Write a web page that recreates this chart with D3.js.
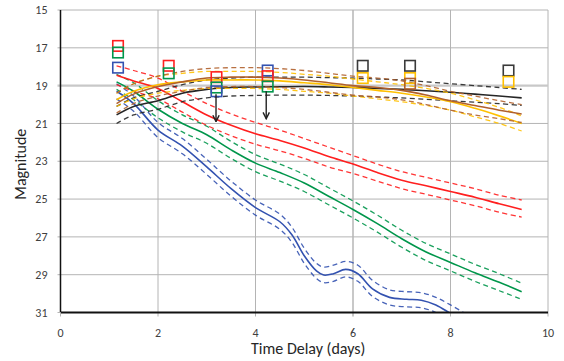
<!DOCTYPE html>
<html>
<head>
<meta charset="utf-8">
<script src="https://cdn.jsdelivr.net/npm/d3@7"></script>
<style>
  body { margin: 0; background: #fff; }
  text { font-family: Carlito, Calibri, "Open Sans", sans-serif; }
</style>
</head>
<body>
<div id="chart"></div>
<script>
// time knots (days) shared by the model curves
var tKnots = [1.15, 1.5, 2, 2.5, 3, 3.5, 4, 4.5, 5, 5.5, 6, 6.5, 7, 7.5, 8, 8.5, 9, 9.46];

var redMid = [18.45, 18.75, 19.15, 19.85, 20.55, 21.1, 21.55, 21.9, 22.3, 22.75, 23.15, 23.6, 24.0, 24.3, 24.6, 24.9, 25.25, 25.55];
var redHi  = [17.95, 18.2, 18.6, 19.3, 19.95, 20.5, 20.95, 21.35, 21.8, 22.25, 22.7, 23.15, 23.55, 23.85, 24.15, 24.45, 24.8, 25.05];
var redLo  = [18.95, 19.3, 19.7, 20.4, 21.1, 21.65, 22.1, 22.45, 22.85, 23.3, 23.65, 24.05, 24.45, 24.75, 25.05, 25.35, 25.7, 25.95];

var greenMid = [18.8, 19.3, 20.25, 21.0, 21.6, 22.4, 23.1, 23.6, 24.15, 24.85, 25.55, 26.3, 27.1, 27.8, 28.35, 28.9, 29.4, 29.9];
var greenHi  = [18.4, 18.85, 19.8, 20.55, 21.15, 21.95, 22.65, 23.15, 23.7, 24.4, 25.1, 25.85, 26.65, 27.35, 27.9, 28.45, 28.95, 29.45];
var greenLo  = [19.2, 19.75, 20.7, 21.45, 22.05, 22.85, 23.55, 24.05, 24.6, 25.3, 26.0, 26.75, 27.55, 28.25, 28.8, 29.35, 29.85, 30.3];

var blueT   = [1.15, 1.5, 2, 2.5, 3, 3.5, 4, 4.5, 4.75, 5, 5.25, 5.4, 5.6, 5.85, 6.1, 6.4, 6.75, 7.1, 7.4, 7.7, 8, 8.3];
var blueMid = [19.3, 19.95, 21.35, 22.2, 23.3, 24.45, 25.45, 26.2, 26.9, 28.0, 28.8, 29.02, 28.95, 28.72, 28.95, 29.75, 30.2, 30.3, 30.35, 30.6, 31.05, 31.5];
var blueHi  = [18.9, 19.55, 20.95, 21.8, 22.9, 24.05, 25.05, 25.8, 26.5, 27.6, 28.4, 28.6, 28.5, 28.3, 28.5, 29.3, 29.8, 29.9, 29.95, 30.2, 30.6, 31.05];
var blueLo  = [19.7, 20.35, 21.75, 22.6, 23.7, 24.85, 25.85, 26.6, 27.3, 28.4, 29.2, 29.42, 29.35, 29.12, 29.35, 30.15, 30.6, 30.7, 30.75, 31.0, 31.45, 31.9];

var orangeMid = [19.75, 19.3, 18.95, 18.8, 18.7, 18.7, 18.7, 18.75, 18.85, 18.95, 19.1, 19.25, 19.4, 19.6, 19.85, 20.2, 20.6, 21.0];
var orangeHi  = [19.4, 18.9, 18.5, 18.35, 18.25, 18.25, 18.25, 18.3, 18.4, 18.5, 18.65, 18.8, 18.95, 19.15, 19.4, 19.75, 20.15, 20.6];
var orangeLo  = [20.1, 19.7, 19.4, 19.25, 19.15, 19.15, 19.15, 19.2, 19.3, 19.4, 19.55, 19.7, 19.85, 20.05, 20.3, 20.65, 21.0, 21.4];

var brownMid = [19.95, 19.45, 19.05, 18.8, 18.6, 18.55, 18.55, 18.6, 18.7, 18.85, 19.0, 19.1, 19.25, 19.5, 19.8, 20.05, 20.3, 20.5];
var brownHi  = [19.4, 18.9, 18.5, 18.25, 18.1, 18.05, 18.05, 18.1, 18.2, 18.35, 18.5, 18.6, 18.75, 19.0, 19.3, 19.55, 19.8, 20.0];
var brownLo  = [20.45, 19.95, 19.55, 19.3, 19.1, 19.05, 19.05, 19.1, 19.2, 19.35, 19.5, 19.6, 19.75, 20.0, 20.3, 20.55, 20.75, 20.95];

var blackMid = [20.55, 20.1, 19.8, 19.4, 19.2, 19.1, 19.07, 19.06, 19.05, 19.07, 19.1, 19.15, 19.2, 19.27, 19.35, 19.45, 19.55, 19.65];
var blackHi  = [20.1, 19.65, 19.3, 18.95, 18.7, 18.6, 18.55, 18.55, 18.55, 18.58, 18.6, 18.65, 18.7, 18.8, 18.9, 19.0, 19.1, 19.2];
var blackLo  = [21.0, 20.55, 20.25, 19.85, 19.65, 19.55, 19.52, 19.5, 19.5, 19.52, 19.55, 19.6, 19.65, 19.72, 19.8, 19.88, 19.95, 20.05];

// observed points (squares)
var obsT     = [1.18, 1.18, 1.18, 2.22, 2.22, 3.2, 3.2, 3.2, 4.25, 4.25, 4.25, 6.2, 6.2, 7.17, 7.17, 7.17, 9.19, 9.19];
var obsMag   = [16.9, 17.25, 18.05, 17.95, 18.35, 18.55, 19.1, 19.3, 18.2, 18.5, 19.05, 17.95, 18.6, 17.95, 18.6, 18.9, 18.2, 18.8];
var obsColor = ["red", "green", "blue", "red", "green", "red", "green", "blue", "blue", "red", "green", "black", "orange", "black", "orange", "brown", "black", "orange"];

// upper limits (arrows)
var limT    = [3.19, 4.22];
var limFrom = [19.45, 19.3];
var limTo   = [20.9, 20.75];

var xTicks = [0, 2, 4, 6, 8, 10];
var yTicks = [15, 17, 19, 21, 23, 25, 27, 29, 31];

var colors = { red: "#ff1f1f", green: "#00964b", blue: "#3352b0", orange: "#ffc000", brown: "#b0602c", black: "#262626" };

var margin = {top: 10, right: 16, bottom: 48.5, left: 60.5},
    width = 564 - margin.left - margin.right,
    height = 361 - margin.top - margin.bottom;

var svg = d3.select("#chart")
  .append("svg")
    .attr("width", 564)
    .attr("height", 361)
  .append("g")
    .attr("transform", "translate(" + margin.left + "," + margin.top + ")");

var x = d3.scaleLinear().domain([0, 10]).range([0, width]);
var y = d3.scaleLinear().domain([15, 31]).range([0, height]);

// gridlines
svg.append("g")
  .selectAll("line")
  .data(xTicks.slice(1))
  .enter().append("line")
  .attr("x1", d => x(d)).attr("x2", d => x(d))
  .attr("y1", 0).attr("y2", height + 4)
  .attr("stroke", d => d == 6 ? "#c8c8c8" : "#b4b4b4")
  .attr("stroke-width", d => d == 6 ? 2 : 1);

svg.append("g")
  .selectAll("line")
  .data(yTicks.slice(0, -1))
  .enter().append("line")
  .attr("x1", -3).attr("x2", width)
  .attr("y1", d => y(d)).attr("y2", d => y(d))
  .attr("stroke", d => d == 19 ? "#c8c8c8" : "#b4b4b4")
  .attr("stroke-width", d => d == 19 ? 2.2 : 1);

svg.append("clipPath").attr("id", "clip")
  .append("rect").attr("width", width).attr("height", height);

var plot = svg.append("g").attr("clip-path", "url(#clip)");

var line = d3.line()
  .x(d => x(d[0]))
  .y(d => y(d[1]))
  .curve(d3.curveCatmullRom.alpha(0.5));

function band(ts, lo, mid, hi, col) {
  [lo, hi].forEach(function(arr) {
    plot.append("path")
      .datum(ts.map((t, i) => [t, arr[i]]))
      .attr("d", line)
      .attr("fill", "none")
      .attr("stroke", col)
      .attr("stroke-width", 1.3)
      .attr("stroke-dasharray", "5,3.5")
      .attr("opacity", 0.9);
  });
  plot.append("path")
    .datum(ts.map((t, i) => [t, mid[i]]))
    .attr("d", line)
    .attr("fill", "none")
    .attr("stroke", col)
    .attr("stroke-width", 1.6);
}

band(blueT, blueLo, blueMid, blueHi, colors.blue);
band(tKnots, greenLo, greenMid, greenHi, colors.green);
band(tKnots, redLo, redMid, redHi, colors.red);
band(tKnots, blackLo, blackMid, blackHi, colors.black);
band(tKnots, orangeLo, orangeMid, orangeHi, colors.orange);
band(tKnots, brownLo, brownMid, brownHi, colors.brown);

// observation squares
var sq = 10.5;
svg.append("g")
  .selectAll("rect")
  .data(obsT)
  .enter().append("rect")
  .attr("x", (d, i) => x(d) - sq / 2)
  .attr("y", (d, i) => y(obsMag[i]) - sq / 2)
  .attr("width", sq).attr("height", sq)
  .attr("fill", "none")
  .attr("stroke", (d, i) => obsColor[i] == "black" ? "#3a3a3a" : colors[obsColor[i]])
  .attr("stroke-width", 1.6);

// upper limit arrows (marker drawn pointing along +x, auto-rotated)
svg.append("defs").append("marker")
  .attr("id", "arrow")
  .attr("viewBox", "0 0 10 10")
  .attr("refX", 9).attr("refY", 5)
  .attr("markerWidth", 9).attr("markerHeight", 9)
  .attr("orient", "auto")
  .attr("markerUnits", "userSpaceOnUse")
  .append("path")
  .attr("d", "M2,1.5 L9,5 L2,8.5")
  .attr("fill", "none")
  .attr("stroke", "#222")
  .attr("stroke-width", 1.6);

svg.append("g")
  .selectAll("line")
  .data(limT)
  .enter().append("line")
  .attr("x1", d => x(d)).attr("x2", d => x(d))
  .attr("y1", (d, i) => y(limFrom[i]))
  .attr("y2", (d, i) => y(limTo[i]))
  .attr("stroke", "#222")
  .attr("stroke-width", 1.4)
  .attr("marker-end", "url(#arrow)");

// axes
svg.append("line")
  .attr("x1", 0).attr("x2", 0).attr("y1", 0).attr("y2", height)
  .attr("stroke", "#111").attr("stroke-width", 1.5);
svg.append("line")
  .attr("x1", 0).attr("x2", width).attr("y1", height).attr("y2", height)
  .attr("stroke", "#111").attr("stroke-width", 2);
svg.append("line")
  .attr("x1", 0).attr("x2", 0).attr("y1", height).attr("y2", height + 4)
  .attr("stroke", "#b4b4b4");
svg.append("line")
  .attr("x1", -3).attr("x2", 0).attr("y1", height).attr("y2", height)
  .attr("stroke", "#b4b4b4");

svg.append("g")
  .selectAll("text")
  .data(yTicks)
  .enter().append("text")
  .attr("x", -13)
  .attr("y", d => y(d))
  .attr("dy", "0.35em")
  .attr("text-anchor", "end")
  .attr("font-size", 12)
  .attr("fill", "#404040")
  .text(d => d);

svg.append("g")
  .selectAll("text")
  .data(xTicks)
  .enter().append("text")
  .attr("x", d => x(d))
  .attr("y", height + 24.5)
  .attr("text-anchor", "middle")
  .attr("font-size", 12)
  .attr("fill", "#404040")
  .text(d => d);

svg.append("text")
  .attr("x", x(5) + 4)
  .attr("y", height + 41)
  .attr("text-anchor", "middle")
  .attr("font-size", 16)
  .attr("fill", "#262626")
  .text("Time Delay (days)");

svg.append("text")
  .attr("transform", "translate(-35," + (height / 2 + 3) + ") rotate(-90)")
  .attr("text-anchor", "middle")
  .attr("font-size", 16)
  .attr("fill", "#262626")
  .text("Magnitude");
</script>
</body>
</html>
